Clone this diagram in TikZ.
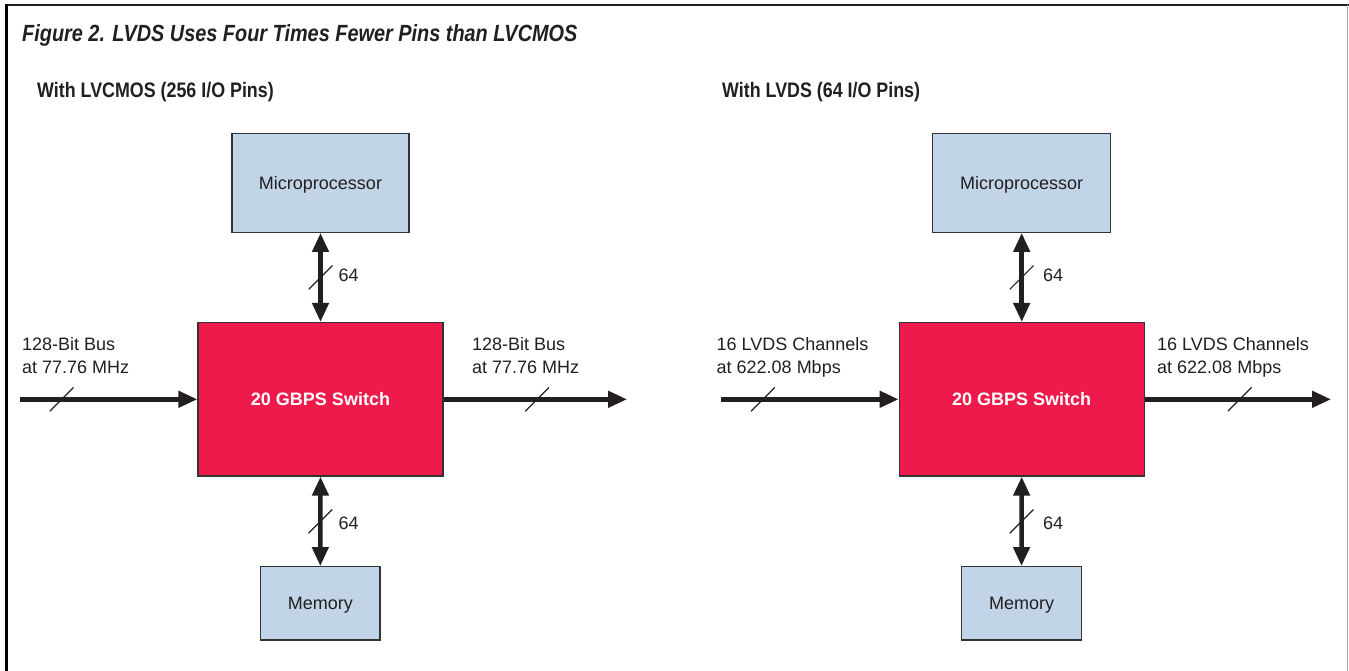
\documentclass[tikz,border=0pt]{standalone}
\usepackage{fontspec}
\setmainfont{Liberation Sans}
\newfontfamily\condfont[FakeStretch=0.85]{Liberation Sans}
\usetikzlibrary{arrows.meta}

\definecolor{boxblue}{HTML}{C2D4E8}
\definecolor{switchred}{HTML}{EE1A4B}
\definecolor{ink}{HTML}{231F20}
\definecolor{edge}{HTML}{333333}

\tikzset{
  every node/.style={text=ink},
  blockbox/.style={draw=edge, line width=1.2pt, fill=boxblue, inner sep=0pt,
    text height=13pt, text depth=0pt,
    font=\fontsize{18}{22}\selectfont},
  switchbox/.style={draw=edge, line width=1.2pt, fill=switchred, inner sep=0pt,
    minimum width=245pt, minimum height=153.5pt, text height=13pt, text depth=0pt,
    text=white, font=\bfseries\fontsize{18}{22}\selectfont},
  bus/.style={draw=ink, line width=4.5pt,
    -{Triangle[length=19pt,width=16pt]}},
  bibus/.style={draw=ink, line width=4.5pt,
    {Triangle[length=19pt,width=16pt]}-{Triangle[length=19pt,width=16pt]}},
  slashmark/.style={inner sep=0pt, minimum size=24pt,
    path picture={\draw[-, draw=ink, line width=1.2pt]
      (path picture bounding box.south west) -- (path picture bounding box.north east);}},
  buslabel/.style={anchor=north west, inner sep=0pt, align=left,
    font=\fontsize{18}{23.3}\selectfont},
  widthlabel/.style={anchor=west, inner sep=0pt, font=\fontsize{18}{22}\selectfont},
  heading/.style={anchor=base west, inner sep=0pt,
    font=\condfont\bfseries\fontsize{21}{24}\selectfont},
  titletext/.style={anchor=base west, inner sep=0pt,
    font=\condfont\bfseries\itshape\fontsize{23.4}{26}\selectfont},
}

\begin{document}
\begin{tikzpicture}[x=1pt, y=-1pt]
  \useasboundingbox (0,0) rectangle (1349,671);

  % outer frame
  \draw[ink, line width=2pt] (6,5) -- (1349,5);
  \draw[black, line width=2.5pt] (6.5,4) -- (6.5,671);
  \draw[gray!70, line width=1pt] (1347.5,5) -- (1347.5,671);

  % title and panel headings
  \node[titletext] (title) at (22,42) {Figure 2. LVDS Uses Four Times Fewer Pins than LVCMOS};
  \node[heading] (headL) at (37,97.5) {With LVCMOS (256 I/O Pins)};
  \node[heading] (headR) at (722,97.5) {With LVDS (64 I/O Pins)};

  % ---------------- LVCMOS panel ----------------
  \node[blockbox, minimum width=177pt, minimum height=99pt] (mpL) at (320.5,182.8) {Microprocessor};
  \node[switchbox] (swL) at (320.5,399.3) {20 GBPS Switch};
  \node[blockbox, minimum width=119.3pt, minimum height=73.3pt] (memL) at (320.3,603.3) {Memory};

  \coordinate (inL) at (20,399.3);
  \coordinate (outL) at (627,399.3);

  \draw[bibus] (mpL.south) -- node[slashmark] (sl1) {} (swL.north);
  \draw[bibus] (swL.south) -- node[slashmark] (sl2) {} (memL.north);
  \draw[bus] (inL) -- node[pos=0.235, slashmark] (sl3) {} (swL.west);
  \draw[bus] (swL.east) -- node[pos=0.51, slashmark] (sl4) {} (outL);

  \node[widthlabel] (wL1) at (338.5,275) {64};
  \node[widthlabel] (wL2) at (338.5,523.5) {64};

  \node[buslabel] (lblLin) at (22,337) {128-Bit Bus\\at 77.76 MHz};
  \node[buslabel] (lblLout) at (472,337) {128-Bit Bus\\at 77.76 MHz};

  % ---------------- LVDS panel ----------------
  \node[blockbox, minimum width=178pt, minimum height=99pt] (mpR) at (1021.7,182.8) {Microprocessor};
  \node[switchbox] (swR) at (1021.7,399.3) {20 GBPS Switch};
  \node[blockbox, minimum width=119.3pt, minimum height=73.3pt] (memR) at (1021.5,603.3) {Memory};

  \coordinate (inR) at (721,399.3);
  \coordinate (outR) at (1331,399.3);

  \draw[bibus] (mpR.south) -- node[slashmark] (sl5) {} (swR.north);
  \draw[bibus] (swR.south) -- node[slashmark] (sl6) {} (memR.north);
  \draw[bus] (inR) -- node[pos=0.236, slashmark] (sl7) {} (swR.west);
  \draw[bus] (swR.east) -- node[pos=0.51, slashmark] (sl8) {} (outR);

  \node[widthlabel] (wR1) at (1043,275) {64};
  \node[widthlabel] (wR2) at (1043,523.5) {64};

  \node[buslabel] (lblRin) at (716.5,337) {16 LVDS Channels\\at 622.08 Mbps};
  \node[buslabel] (lblRout) at (1157,337) {16 LVDS Channels\\at 622.08 Mbps};
\end{tikzpicture}
\end{document}
